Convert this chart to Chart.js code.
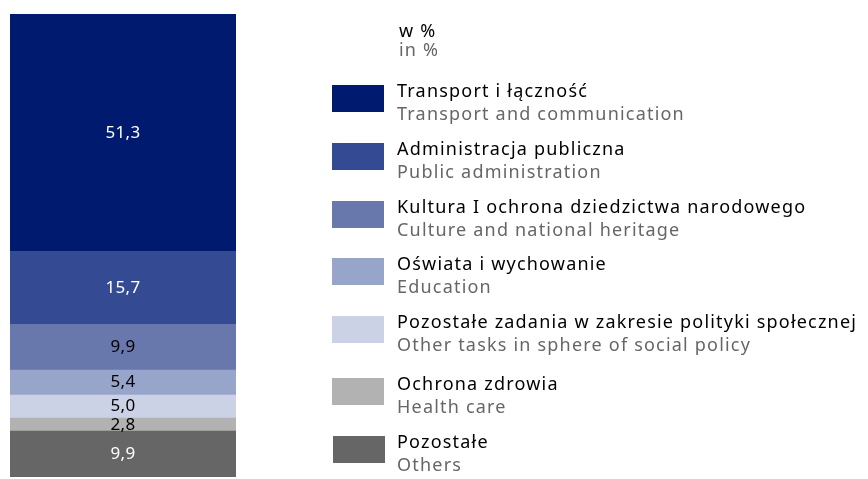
<!DOCTYPE html>
<html>
<head>
  <title>Struktura wydatków</title>
  <script src="https://cdn.jsdelivr.net/npm/chart.js"></script>
  <style>
    body { margin: 0; background: #fff; }
    #wrap { width: 868px; height: 479px; position: relative; }
  </style>
</head>
<body>
  <div id="wrap"><canvas id="chart"></canvas></div>

  <script>
    const labelsPl = ['Transport i łączność', 'Administracja publiczna', 'Kultura I ochrona dziedzictwa narodowego',
      'Oświata i wychowanie', 'Pozostałe zadania w zakresie polityki społecznej', 'Ochrona zdrowia', 'Pozostałe'];
    const labelsEn = ['Transport and communication', 'Public administration', 'Culture and national heritage',
      'Education', 'Other tasks in sphere of social policy', 'Health care', 'Others'];
    const values = [51.3, 15.7, 9.9, 5.4, 5.0, 2.8, 9.9];
    const colors = ['#001a70', '#344b93', '#6878ad', '#98a5cb', '#ccd2e5', '#b2b2b2', '#666666'];
    const textColors = ['#fff', '#fff', '#000', '#000', '#000', '#000', '#fff'];

    const FONT = '"Noto Sans", sans-serif';

    // stack from bottom: last item first
    const order = values.map((v, i) => i).reverse();
    const datasets = order.map(i => ({
      label: labelsPl[i],
      data: [values[i]],
      backgroundColor: colors[i],
      borderWidth: 0,
      barPercentage: 1,
      categoryPercentage: 1
    }));

    const valueLabels = {
      id: 'valueLabels',
      afterDatasetsDraw(chart) {
        const ctx = chart.ctx;
        ctx.save();
        ctx.font = '17px ' + FONT;
        ctx.letterSpacing = '0.3px';
        ctx.textAlign = 'center';
        ctx.textBaseline = 'middle';
        chart.data.datasets.forEach((ds, di) => {
          const bar = chart.getDatasetMeta(di).data[0];
          const idx = order[di];
          ctx.fillStyle = textColors[idx];
          ctx.fillText(values[idx].toFixed(1).replace('.', ','), bar.x, (bar.y + bar.base) / 2);
        });
        ctx.restore();
      }
    };

    const sideLegend = {
      id: 'sideLegend',
      afterDraw(chart) {
        const ctx = chart.ctx;
        ctx.save();
        ctx.textAlign = 'left';
        ctx.textBaseline = 'middle';
        ctx.font = '18px ' + FONT;
        ctx.letterSpacing = '1.2px';
        ctx.fillStyle = '#000';
        ctx.fillText('w %', 399, 32);
        ctx.fillStyle = '#666';
        ctx.fillText('in %', 399, 51);
        const tops = [85, 143, 201, 258, 316, 378, 436];
        labelsPl.forEach((t, i) => {
          const y = tops[i];
          ctx.fillStyle = colors[i];
          ctx.fillRect(i === 6 ? 333 : 332, y, 52, 27);
          ctx.fillStyle = '#000';
          ctx.fillText(t, 397, y + 7);
          ctx.fillStyle = '#666';
          ctx.fillText(labelsEn[i], 397, y + 30);
        });
        ctx.restore();
      }
    };

    new Chart(document.getElementById('chart'), {
      type: 'bar',
      data: { labels: [''], datasets: datasets },
      options: {
        responsive: true,
        maintainAspectRatio: false,
        animation: false,
        layout: { padding: { left: 10, right: 632, top: 14, bottom: 2 } },
        plugins: { legend: { display: false }, tooltip: { enabled: false } },
        scales: {
          x: { stacked: true, display: false },
          y: { stacked: true, display: false, min: 0, max: 100 }
        }
      },
      plugins: [valueLabels, sideLegend]
    });
  </script>
</body>
</html>
